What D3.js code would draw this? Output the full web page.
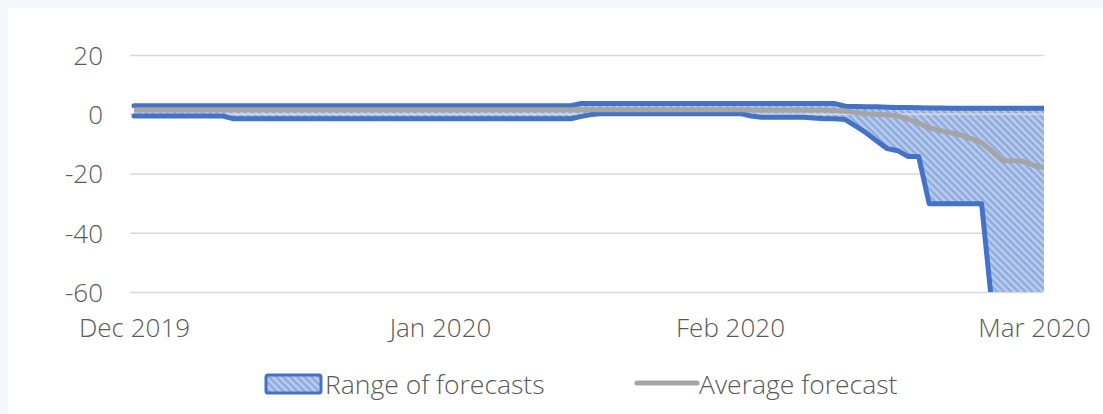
<!DOCTYPE html>
<html>
<head>
<meta charset="utf-8">
<script src="https://cdn.jsdelivr.net/npm/d3@7"></script>
<style>
  body { margin: 0; background: #f3f7fc; }
  #chart svg { display: block; }
  .axis text { font-family: "Open Sans", sans-serif; font-weight: 300; font-size: 26px; fill: #595959; }
  .legend text { font-family: "Open Sans", sans-serif; font-weight: 300; font-size: 26.5px; fill: #595959; }
</style>
</head>
<body>
<div id="chart"></div>
<script>
// Daily forecast values, Dec 1 2019 - Mar 2 2020 (one line per month)
const upperForecast = [
  2.9, 2.9, 2.9, 2.9, 2.9, 2.9, 2.9, 2.9, 2.9, 2.9, 2.9, 2.9, 2.9, 2.9, 2.9, 2.9, 2.9, 2.9, 2.9, 2.9, 2.9, 2.9, 2.9, 2.9, 2.9, 2.9, 2.9, 2.9, 2.9, 2.9, 2.9,
  2.9, 2.9, 2.9, 2.9, 2.9, 2.9, 2.9, 2.9, 2.9, 2.9, 2.9, 2.9, 2.9, 2.9, 2.9, 3.6, 3.6, 3.6, 3.6, 3.6, 3.6, 3.6, 3.6, 3.6, 3.6, 3.6, 3.6, 3.6, 3.6, 3.6, 3.6,
  3.6, 3.6, 3.6, 3.6, 3.6, 3.6, 3.6, 3.6, 3.6, 3.6, 3.6, 2.7, 2.6, 2.5, 2.5, 2.4, 2.3, 2.3, 2.2, 2.1, 2.1, 2.0, 2.0, 2.0, 2.0, 2.0, 2.0, 2.0, 2.0,
  2.0, 2.0
];

const lowerForecast = [
  -0.6, -0.6, -0.6, -0.6, -0.6, -0.6, -0.6, -0.6, -0.6, -0.6, -1.5, -1.5, -1.5, -1.5, -1.5, -1.5, -1.5, -1.5, -1.5, -1.5, -1.5, -1.5, -1.5, -1.5, -1.5, -1.5, -1.5, -1.5, -1.5, -1.5, -1.5,
  -1.5, -1.5, -1.5, -1.5, -1.5, -1.5, -1.5, -1.5, -1.5, -1.5, -1.5, -1.5, -1.5, -1.5, -1.5, -0.8, -0.2, 0.2, 0.2, 0.2, 0.2, 0.2, 0.2, 0.2, 0.2, 0.2, 0.2, 0.2, 0.2, 0.2, 0.2,
  0.2, 0.2, -0.6, -1.0, -1.0, -1.0, -1.0, -1.0, -1.3, -1.5, -1.5, -1.8, -4.0, -6.3, -9.0, -11.6, -12.3, -14.3, -14.3, -30.2, -30.2, -30.2, -30.2, -30.2, -30.2, -65, -65, -65, -65,
  -65, -65
];

const averageForecast = [
  1.5, 1.5, 1.5, 1.5, 1.5, 1.5, 1.5, 1.5, 1.5, 1.5, 1.5, 1.5, 1.5, 1.5, 1.5, 1.5, 1.5, 1.5, 1.5, 1.5, 1.5, 1.5, 1.5, 1.5, 1.5, 1.5, 1.5, 1.5, 1.5, 1.5, 1.5,
  1.5, 1.5, 1.5, 1.5, 1.5, 1.5, 1.5, 1.5, 1.5, 1.5, 1.5, 1.5, 1.5, 1.5, 1.5, 1.5, 1.5, 1.5, 1.5, 1.5, 1.5, 1.5, 1.5, 1.5, 1.5, 1.5, 1.5, 1.5, 1.5, 1.5, 1.5,
  1.5, 1.5, 1.4, 1.4, 1.4, 1.4, 1.4, 1.4, 1.4, 1.4, 1.3, 1.0, 0.6, 0.2, 0.0, -0.2, -0.6, -1.6, -3.0, -4.6, -5.5, -6.2, -7.0, -8.2, -9.6, -12.5, -15.7, -15.7, -15.9,
  -17.3, -18.0
];

const yTicks = [20, 0, -20, -40, -60];
const monthTicks = [new Date(2019, 11, 1), new Date(2020, 0, 1), new Date(2020, 1, 1), new Date(2020, 2, 1)];
const legendLabels = ["Range of forecasts", "Average forecast"];

const dates = d3.timeDay.range(new Date(2019, 11, 1), new Date(2020, 2, 3));
const data = dates.map((d, i) => ({
  date: d, lo: lowerForecast[i], hi: upperForecast[i], avg: averageForecast[i]
}));

const W = 1103, H = 414;
const plotLeft = 130, plotRight = 1044, plotTop = 55, plotBottom = 292;

const svg = d3.select("#chart").append("svg")
  .attr("width", W)
  .attr("height", H);

// white panel
svg.append("rect")
  .attr("x", 8).attr("y", 8)
  .attr("width", W - 8).attr("height", H - 8)
  .attr("fill", "#ffffff");

const defs = svg.append("defs");
const pat = defs.append("pattern")
  .attr("id", "hatch")
  .attr("patternUnits", "userSpaceOnUse")
  .attr("width", 5).attr("height", 5)
  .attr("patternTransform", "rotate(-45)");
pat.append("rect").attr("width", 5).attr("height", 5).attr("fill", "#8eabdf");
pat.append("rect").attr("width", 2.5).attr("height", 5).attr("fill", "#bccdee");

defs.append("clipPath").attr("id", "plotclip")
  .append("rect")
  .attr("x", plotLeft).attr("y", plotTop)
  .attr("width", plotRight - plotLeft).attr("height", plotBottom - plotTop);

// x scale with month anchors
const x = d3.scaleTime()
  .domain([new Date(2019, 11, 1), new Date(2020, 0, 1), new Date(2020, 1, 1), new Date(2020, 2, 1), new Date(2020, 2, 2)])
  .range([134, 440, 730, 1034, 1044]);

const y = d3.scaleLinear()
  .domain([-60, 20])
  .range([plotBottom, plotTop]);

// y axis with gridlines
svg.append("g")
  .attr("class", "y axis")
  .attr("transform", "translate(" + plotLeft + ",0)")
  .call(d3.axisLeft(y).tickValues(yTicks).tickSize(-(plotRight - plotLeft)).tickPadding(27).tickFormat(d => String(d)))
  .call(g => g.select(".domain").remove())
  .call(g => g.selectAll(".tick line")
    .attr("stroke", d => d === 0 ? "none" : "#d9d9d9")
    .attr("stroke-width", 1.5))
  .call(g => g.selectAll(".tick text").attr("dy", "0.36em"));

// range area
svg.append("path")
  .datum(data)
  .attr("clip-path", "url(#plotclip)")
  .attr("fill", "url(#hatch)")
  .attr("d", d3.area()
    .x(d => x(d.date))
    .y0(d => y(d.lo))
    .y1(d => y(d.hi)));

// zero axis line
svg.append("line")
  .attr("x1", plotLeft).attr("x2", plotRight)
  .attr("y1", y(0)).attr("y2", y(0))
  .attr("stroke", "#d9d9d9")
  .attr("stroke-width", 1.5);

const lineGen = key => d3.line().x(d => x(d.date)).y(d => y(d[key]));

svg.append("g").attr("clip-path", "url(#plotclip)")
  .selectAll("path.range")
  .data(["hi", "lo"])
  .enter().append("path")
  .attr("class", "range")
  .attr("fill", "none")
  .attr("stroke", "#4472c4")
  .attr("stroke-width", 5)
  .attr("stroke-linejoin", "round")
  .attr("stroke-linecap", "round")
  .attr("d", k => lineGen(k)(data));

svg.append("path")
  .datum(data)
  .attr("clip-path", "url(#plotclip)")
  .attr("fill", "none")
  .attr("stroke", "#a5a5a5")
  .attr("stroke-width", 5)
  .attr("stroke-linejoin", "round")
  .attr("d", lineGen("avg"));

// x axis labels
svg.append("g")
  .attr("class", "x axis")
  .attr("transform", "translate(0," + plotBottom + ")")
  .call(d3.axisBottom(x).tickValues(monthTicks).tickSize(0).tickPadding(36).tickFormat(d3.timeFormat("%b %Y")))
  .call(g => g.select(".domain").remove())
  .call(g => g.selectAll(".tick text").attr("dy", "0.36em"));

// legend
const legend = svg.append("g").attr("class", "legend");
legend.append("rect")
  .attr("x", 266).attr("y", 375)
  .attr("width", 55).attr("height", 18)
  .attr("rx", 2)
  .attr("fill", "url(#hatch)")
  .attr("stroke", "#4472c4")
  .attr("stroke-width", 3);
legend.append("text")
  .attr("x", 325).attr("y", 384).attr("dy", "0.36em")
  .text(legendLabels[0]);
legend.append("line")
  .attr("x1", 637).attr("x2", 697)
  .attr("y1", 383).attr("y2", 383)
  .attr("stroke", "#a5a5a5")
  .attr("stroke-width", 5)
  .attr("stroke-linecap", "round");
legend.append("text")
  .attr("x", 699).attr("y", 384).attr("dy", "0.36em")
  .text(legendLabels[1]);
</script>
</body>
</html>
